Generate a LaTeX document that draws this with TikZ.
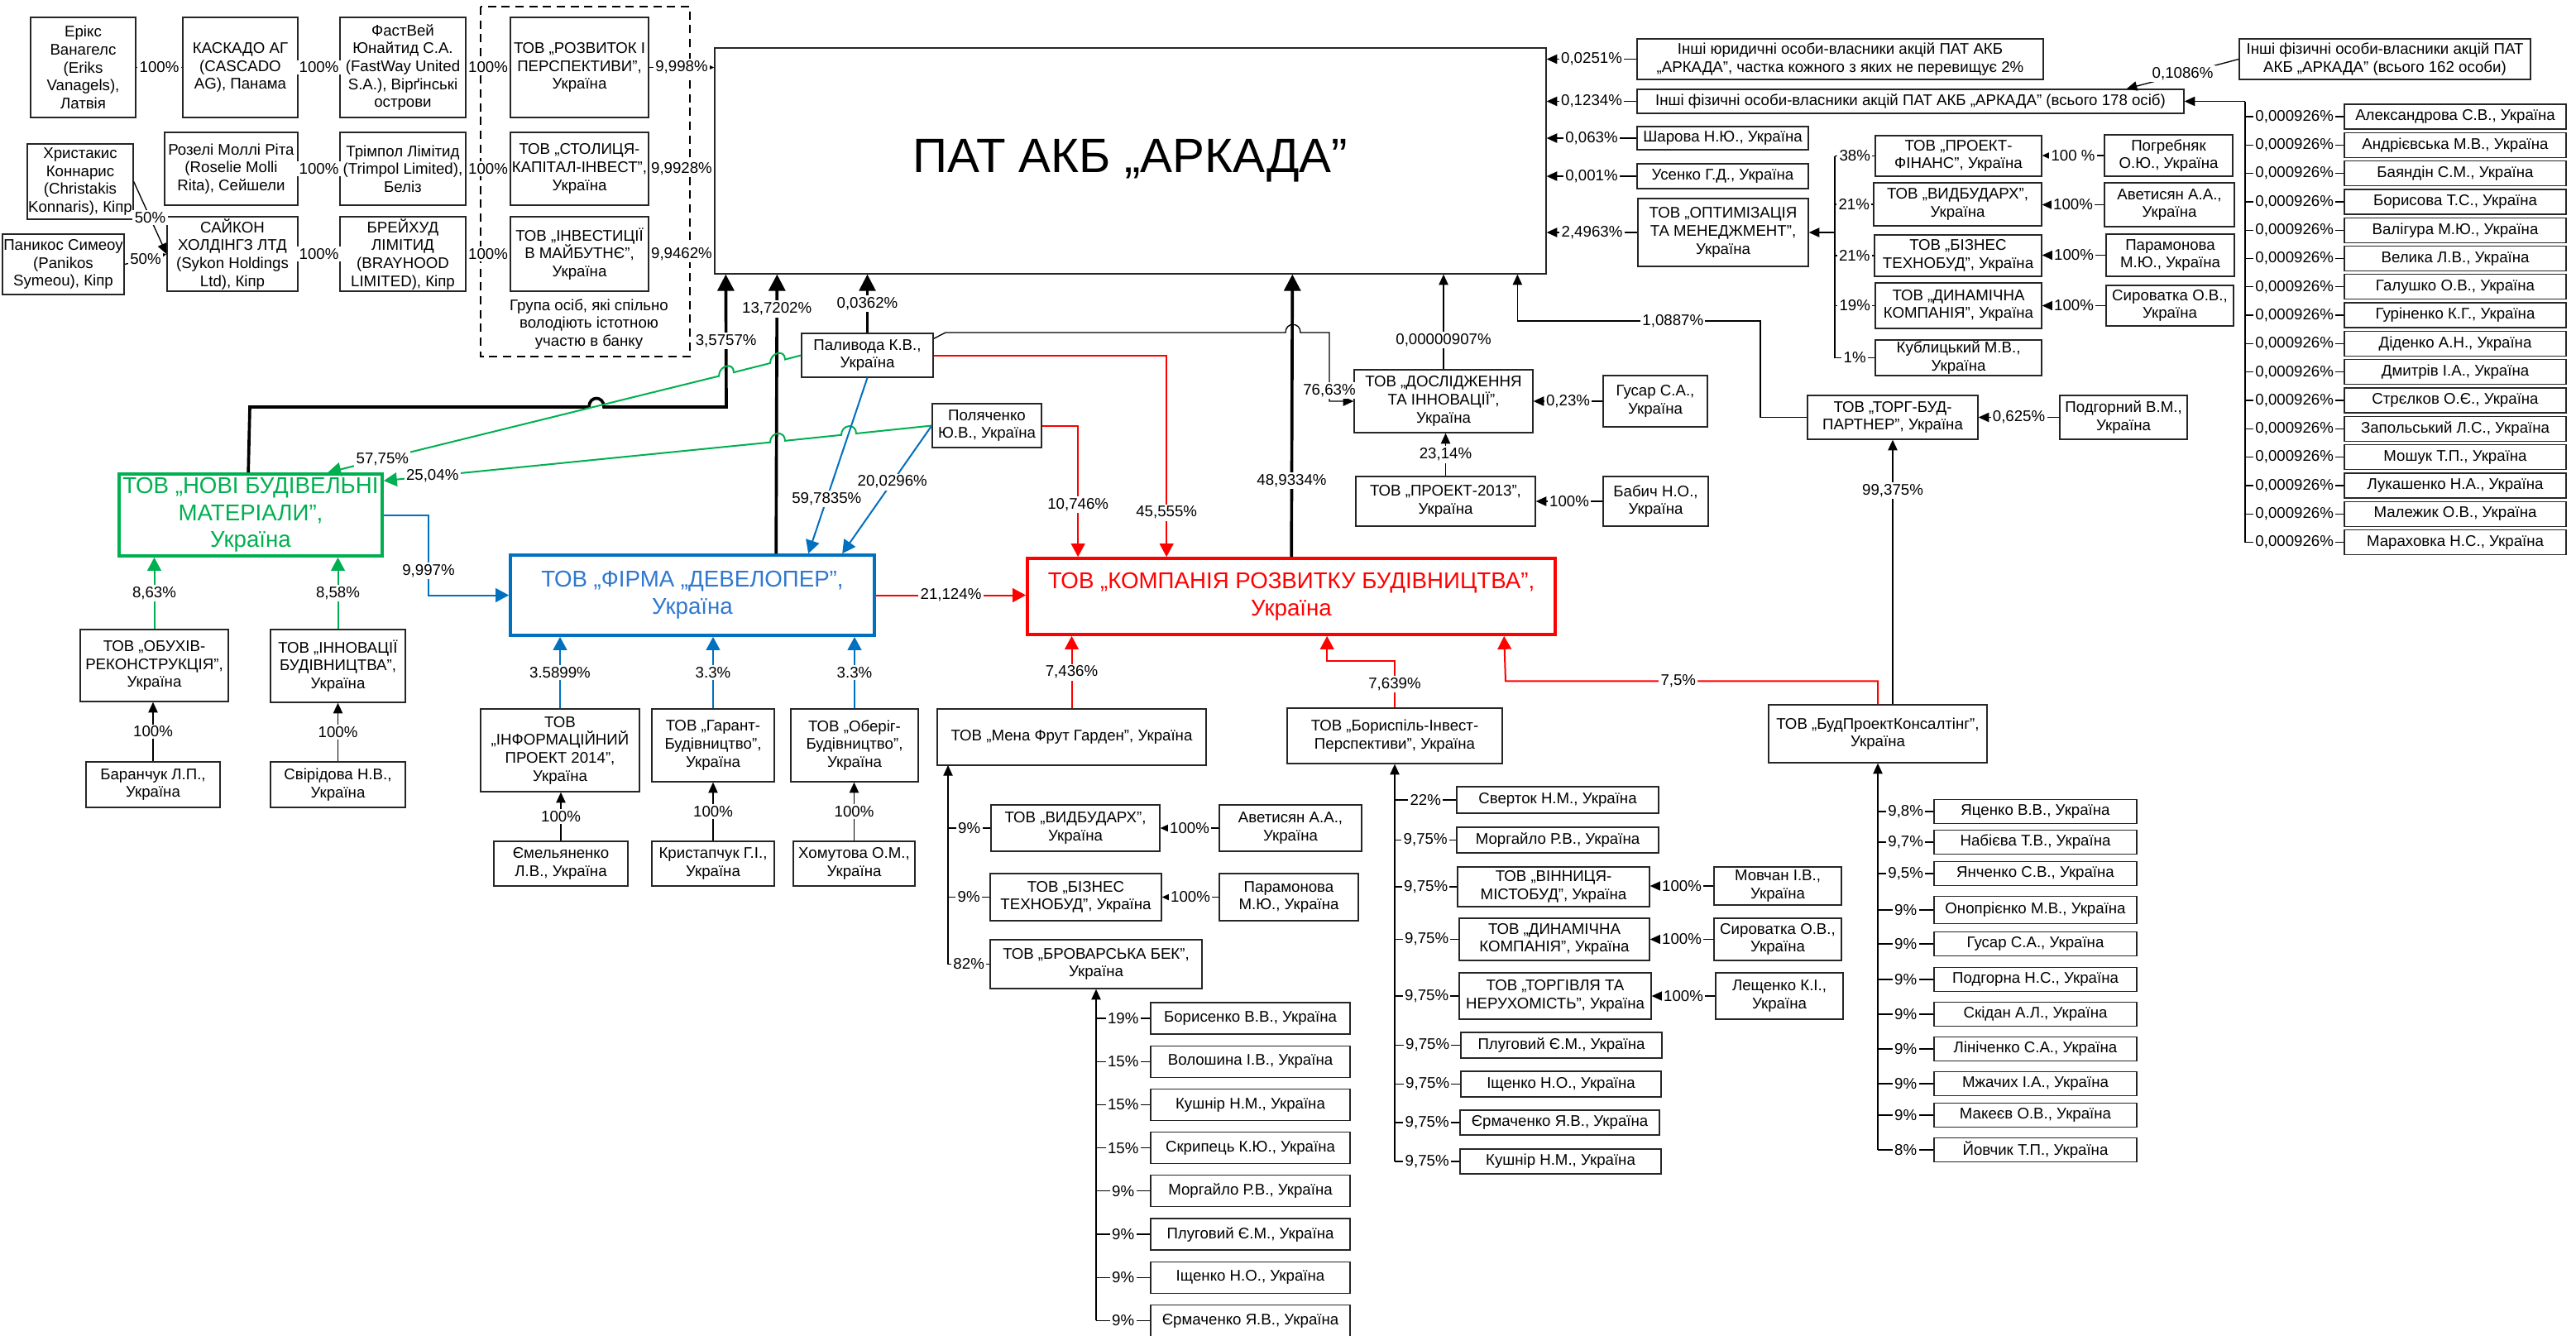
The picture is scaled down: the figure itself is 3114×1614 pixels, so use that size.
\documentclass[tikz,border=0pt]{standalone}
\usepackage{fontspec}
\setmainfont{Liberation Sans}
\usetikzlibrary{arrows.meta,calc}
\definecolor{cg}{HTML}{00B050}
\definecolor{cb}{HTML}{0070C0}
\definecolor{cbt}{HTML}{2F78D0}
\definecolor{cr}{HTML}{FF0000}
\newcommand\fs{\fontsize{5.6pt}{6.5pt}\selectfont}
\newcommand\fb{\fontsize{8.3pt}{9.8pt}\selectfont}
\newcommand\ft{\fontsize{17.5pt}{20pt}\selectfont}
\newcommand\bxx[7][]{\node[box,minimum width={((#5)-(#3))*0.3pt},minimum height={((#6)-(#4))*0.3pt},#1] (#2) at ({((#3)+(#5))/2},{((#4)+(#6))/2}) {#7};}
\newcommand\own[8]{\bxx{#1}{#2}{(#3)-(#5)/2}{#4}{(#3)+(#5)/2}{#6}\draw[ln] (#1.west) -- node[lbl]{#7} (#1.west -| #8);}
\tikzset{
 tS/.tip={Triangle[length=2.2pt,width=2pt]},
 tM/.tip={Triangle[length=3.8pt,width=3.4pt]},
 tL/.tip={Triangle[length=6pt,width=6pt]},
 tG/.tip={Triangle[length=4.8pt,width=5pt]},
}
\begin{document}
\begin{tikzpicture}[x=0.3pt,y=-0.3pt,
 every node/.style={font=\fs},
 box/.style={draw=black!85,line width=0.4pt,fill=white,inner sep=0pt,align=center,font=\fs},
 cbox/.style={draw=#1,line width=1.1pt,font=\fb},
 ln/.style={draw=black,line width=0.4pt},
 thk/.style={draw=black,line width=1.1pt},
 thkm/.style={draw=black,line width=0.8pt},
 gl/.style={draw=cg,line width=0.6pt},
 bl/.style={draw=cb,line width=0.6pt},
 rl/.style={draw=cr,line width=0.6pt},
 lbl/.style={fill=white,inner sep=0.7pt,font=\fs}]
\fill[white] (0,0) rectangle (3114,1614);
\useasboundingbox (0,0) rectangle (3114,1614);
% group frame
\draw[line width=0.4pt,dash pattern=on 3pt off 2pt] (581,8) rectangle (834,431);
\node[align=center,font=\fs] (grp) at (712,392) {Група осіб, які спільно\\володіють істотною\\участю в банку};
% top-left
\bxx{E1}{37}{21}{164}{142}{Ерікс\\Ванагелс\\(Eriks\\Vanagels),\\Латвія}
\bxx{E2}{221}{21}{360}{142}{КАСКАДО АГ\\(CASCADO\\AG), Панама}
\bxx{E3}{411}{21}{563}{142}{ФастВей\\Юнайтид С.А.\\(FastWay United\\S.A.), Вірґінські\\острови}
\bxx{E4}{617}{21}{784}{142}{ТОВ „РОЗВИТОК І\\ПЕРСПЕКТИВИ”,\\Україна}
\bxx{R1}{199}{160}{360}{248}{Розелі Моллі Ріта\\(Roselie Molli\\Rita), Сейшели}
\bxx{R2}{411}{160}{563}{248}{Трімпол Лімітид\\(Trimpol Limited),\\Беліз}
\bxx{R3}{617}{160}{784}{248}{ТОВ „СТОЛИЦЯ-\\КАПІТАЛ-ІНВЕСТ”,\\Україна}
\bxx{H}{33}{174}{161}{265}{Христакис\\Коннарис\\(Christakis\\Konnaris), Кіпр}
\bxx{P}{3}{283}{150}{356}{Паникос Симеоу\\(Panikos\\Symeou), Кіпр}
\bxx{S1}{202}{262}{360}{352}{САЙКОН\\ХОЛДІНГЗ ЛТД\\(Sykon Holdings\\Ltd), Кіпр}
\bxx{S2}{411}{262}{563}{352}{БРЕЙХУД\\ЛІМІТИД\\(BRAYHOOD\\LIMITED), Кіпр}
\bxx{S3}{617}{262}{784}{352}{ТОВ „ІНВЕСТИЦІЇ\\В МАЙБУТНЄ”,\\Україна}
\draw[ln,-{tS}] (E1) -- node[lbl]{100\%} (E2);
\draw[ln,-{tS}] (E2) -- node[lbl]{100\%} (E3);
\draw[ln,-{tS}] (E3) -- node[lbl]{100\%} (E4);
\draw[ln,-{tS}] (R1) -- node[lbl]{100\%} (R2);
\draw[ln,-{tS}] (R2) -- node[lbl]{100\%} (R3);
\draw[ln,-{tS}] (S1) -- node[lbl]{100\%} (S2);
\draw[ln,-{tS}] (S2) -- node[lbl]{100\%} (S3);
\draw[ln,-{tM}] (H.east) -- node[lbl]{50\%} (S1.west);
\draw[ln,-{tM}] (P.east) -- node[lbl]{50\%} (S1.west);
% bank
\bxx[font=\ft]{PAT}{864}{58}{1869}{331}{ПАТ АКБ „АРКАДА”}
\draw[ln,-{tM}] (E4.east) -- node[lbl]{9,998\%} (E4.east -| PAT.west);
\draw[ln,-{tM}] (R3.east) -- node[lbl]{9,9928\%} (R3.east -| PAT.west);
\draw[ln,-{tM}] (S3.east) -- node[lbl]{9,9462\%} (S3.east -| PAT.west);
% right of bank
\bxx{J}{1979}{47}{2470}{96}{Інші юридичні особи-власники акцій ПАТ АКБ\\„АРКАДА”, частка кожного з яких не перевищує 2\%}
\bxx{F178}{1979}{108}{2640}{137}{Інші фізичні особи-власники акцій ПАТ АКБ „АРКАДА” (всього 178 осіб)}
\bxx{SHA}{1979}{153}{2186}{181}{Шарова Н.Ю., Україна}
\bxx{USE}{1979}{198}{2186}{228}{Усенко Г.Д., Україна}
\bxx{OPT}{1980}{240}{2186}{322}{ТОВ „ОПТИМІЗАЦІЯ\\ТА МЕНЕДЖМЕНТ”,\\Україна}
\draw[ln,-{tM}] (J.west) -- node[lbl]{0,0251\%} (J.west -| PAT.east);
\draw[ln,-{tM}] (F178.west) -- node[lbl]{0,1234\%} (F178.west -| PAT.east);
\draw[ln,-{tM}] (SHA.west) -- node[lbl]{0,063\%} (SHA.west -| PAT.east);
\draw[ln,-{tM}] (USE.west) -- node[lbl]{0,001\%} (USE.west -| PAT.east);
\draw[ln,-{tM}] (OPT.west) -- node[lbl]{2,4963\%} (OPT.west -| PAT.east);
\coordinate (ov) at (2218,281);
\bxx{PF}{2267}{164}{2468}{213}{ТОВ „ПРОЕКТ-\\ФІНАНС”, Україна}
\bxx{VD1}{2265}{221}{2468}{273}{ТОВ „ВИДБУДАРХ”,\\Україна}
\bxx{BZ1}{2266}{284}{2468}{334}{ТОВ „БІЗНЕС\\ТЕХНОБУД”, Україна}
\bxx{DN1}{2267}{342}{2468}{397}{ТОВ „ДИНАМІЧНА\\КОМПАНІЯ”, Україна}
\bxx{KUB}{2267}{411}{2468}{454}{Кублицький М.В.,\\Україна}
\draw[ln] (PF.west) -- node[lbl]{38\%} (PF.west -| ov);
\draw[ln] (VD1.west) -- node[lbl]{21\%} (VD1.west -| ov);
\draw[ln] (BZ1.west) -- node[lbl]{21\%} (BZ1.west -| ov);
\draw[ln] (DN1.west) -- node[lbl]{19\%} (DN1.west -| ov);
\draw[ln] (KUB.west) -- node[lbl]{1\%} (KUB.west -| ov);
\draw[ln] (PF.west -| ov) -- (KUB.west -| ov);
\draw[ln,-{tM}] (ov) -- (OPT.east);
\bxx{POG}{2544}{163}{2699}{213}{Погребняк\\О.Ю., Україна}
\bxx{AV1}{2544}{221}{2701}{274}{Аветисян А.А.,\\Україна}
\bxx{PA1}{2546}{283}{2701}{334}{Парамонова\\М.Ю., Україна}
\bxx{SY1}{2546}{345}{2700}{394}{Сироватка О.В.,\\Україна}
\draw[ln,-{tM}] (POG.west) -- node[lbl]{100 \%} (POG.west -| PF.east);
\draw[ln,-{tM}] (AV1.west) -- node[lbl]{100\%} (AV1.west -| VD1.east);
\draw[ln,-{tM}] (PA1.west) -- node[lbl]{100\%} (PA1.west -| BZ1.east);
\draw[ln,-{tM}] (SY1.west) -- node[lbl]{100\%} (SY1.west -| DN1.east);
\bxx{F162}{2707}{47}{3059}{96}{Інші фізичні особи-власники акцій ПАТ\\АКБ „АРКАДА” (всього 162 особи)}
\draw[ln,-{tM}] (F162.west) -- node[lbl]{0,1086\%} ($(F178.north east)+(-70,0)$);
\coordinate (iv) at (2714,122.5);
\foreach \n [count=\i from 0] in {Александрова С.В.,Андрієвська М.В.,Баяндін С.М.,Борисова Т.С.,Валігура М.Ю.,Велика Л.В.,Галушко О.В.,Гуріненко К.Г.,Діденко А.Н.,Дмитрів І.А.,Стрєлков О.Є.,Запольський Л.С.,Мошук Т.П.,Лукашенко Н.А.,Малежик О.В.,Мараховка Н.С.}{
 \own{I\i}{2834}{141+34.3*\i}{3102}{30}{\n, Україна}{0,000926\%}{iv}}
\draw[ln] (iv) -- (iv |- I15.west);
\draw[ln,-{tM}] (iv) -- (F178.east);
% research branch
\bxx{DOS}{1637}{447}{1853}{523}{ТОВ „ДОСЛІДЖЕННЯ\\ТА ІННОВАЦІЇ”,\\Україна}
\bxx{GUS}{1938}{454}{2064}{516}{Гусар С.А.,\\Україна}
\bxx{P13}{1639}{576}{1856}{636}{ТОВ „ПРОЕКТ-2013”,\\Україна}
\bxx{BAB}{1938}{576}{2065}{636}{Бабич Н.О.,\\Україна}
\bxx{TRG}{2185}{478}{2391}{531}{ТОВ „ТОРГ-БУД-\\ПАРТНЕР”, Україна}
\bxx{PDG}{2490}{478}{2644}{531}{Подгорний В.М.,\\Україна}
\draw[ln,-{tM}] (DOS.north) -- node[lbl,pos=.31]{0,00000907\%} (DOS.north |- PAT.south);
\draw[ln,-{tM}] (GUS.west) -- node[lbl]{0,23\%} (GUS.west -| DOS.east);
\draw[ln,-{tM}] (P13.north) -- node[lbl]{23,14\%} (P13.north |- DOS.south);
\draw[ln,-{tM}] (BAB.west) -- node[lbl]{100\%} (BAB.west -| P13.east);
\draw[ln,-{tM}] (PDG.west) -- node[lbl]{0,625\%} (PDG.west -| TRG.east);
\coordinate (t1) at (2128,388);
\coordinate (pb1) at ($(PAT.south west)+(971,0)$);
\draw[ln,-{tM}] (TRG.west) -| (t1) -- node[lbl,pos=.36]{1,0887\%} (t1 -| pb1) -- (pb1);
% persons
\bxx{PAL}{969}{403}{1128}{456}{Паливода К.В.,\\Україна}
\bxx{POL}{1127}{488}{1259}{541}{Поляченко\\Ю.В., Україна}
% coloured companies
\bxx[cbox=cg,text=cg]{NOVI}{144}{573}{462}{672}{ТОВ „НОВІ БУДІВЕЛЬНІ\\МАТЕРІАЛИ”,\\Україна}
\bxx[cbox=cb,text=cbt]{FIR}{617}{671}{1057}{768}{ТОВ „ФІРМА „ДЕВЕЛОПЕР”,\\Україна}
\bxx[cbox=cr,text=cr]{KOM}{1242}{675}{1880}{767}{ТОВ „КОМПАНІЯ РОЗВИТКУ БУДІВНИЦТВА”,\\Україна}
% thick black to bank
\coordinate (nb) at ($(NOVI.north west)+(158,0)$);
\draw[thk,-{tL}] (nb) -- (302,492) -- (712,492) .. controls (712,478) and (730,478) .. (730,492) -- (878,492) -- node[lbl]{3,5757\%} ($(PAT.south west)+(14,0)$);
\draw[thk,-{tL}] ($(FIR.north west)+(323,0)$) -- node[lbl,pos=.876]{13,7202\%} ($(PAT.south west)+(76,0)$);
\draw[thk,-{tL}] ($(KOM.north west)+(321,0)$) -- node[lbl,pos=.27]{48,9334\%} ($(PAT.south west)+(699,0)$);
\draw[thkm,-{tL}] (PAL.north) -- node[lbl]{0,0362\%} (PAL.north |- PAT.south);
\draw[ln,-{tM}] ($(PAL.north east)+(0,7)$) -- (1143,402) -- (1554,402) .. controls (1554,389) and (1572,389) .. (1572,402) -- (1607,402) -- node[lbl,pos=.84]{76,63\%} (1607,485) -- (DOS.west);
% green
\draw[gl,-{tG}] (PAL.west) -- (949,434.5) .. controls (949,421.5) and (931,426) .. (931,439) -- (887,450.1) .. controls (887,437) and (869,441.6) .. (869,454.6) -- node[lbl,pos=.86]{57,75\%} ($(NOVI.north west)+(254,0)$);
\draw[gl,-{tG}] (POL.west) -- (1035,524) .. controls (1035,511) and (1017,512.8) .. (1017,525.8) -- (949,532.8) .. controls (949,519.8) and (931,521.7) .. (931,534.7) -- node[lbl,pos=.874]{25,04\%} ($(NOVI.north east)+(0,10)$);
\bxx{OBU}{97}{761}{276}{848}{ТОВ „ОБУХІВ-\\РЕКОНСТРУКЦІЯ”,\\Україна}
\bxx{INB}{327}{761}{490}{849}{ТОВ „ІННОВАЦІЇ\\БУДІВНИЦТВА”,\\Україна}
\bxx{BAR}{104}{921}{266}{976}{Баранчук Л.П.,\\Україна}
\bxx{SVI}{327}{921}{490}{976}{Свірідова Н.В.,\\Україна}
\draw[gl,-{tG}] (OBU.north) -- node[lbl]{8,63\%} (OBU.north |- NOVI.south);
\draw[gl,-{tG}] (INB.north) -- node[lbl]{8,58\%} (INB.north |- NOVI.south);
\draw[ln,-{tM}] (BAR.north) -- node[lbl]{100\%} (BAR.north |- OBU.south);
\draw[ln,-{tM}] (SVI.north) -- node[lbl]{100\%} (SVI.north |- INB.south);
% blue
\coordinate (b1) at (518,622.5);
\draw[bl,-{tG}] (NOVI.east) -- (b1) -- node[lbl,pos=.7]{9,997\%} (b1 |- FIR.west) -- (FIR.west);
\draw[bl,-{tG}] (PAL.south) -- node[lbl,pos=.69]{59,7835\%} ($(FIR.north west)+(362,0)$);
\draw[bl,-{tG}] (POL.west) -- node[lbl,pos=.44]{20,0296\%} ($(FIR.north west)+(403,0)$);
\bxx{INF}{581}{857}{773}{957}{ТОВ\\„ІНФОРМАЦІЙНИЙ\\ПРОЕКТ 2014”,\\Україна}
\bxx{EME}{597}{1017}{759}{1071}{Ємельяненко\\Л.В., Україна}
\bxx{GAR}{788}{857}{936}{945}{ТОВ „Гарант-\\Будівництво”,\\Україна}
\bxx{KRI}{788}{1017}{936}{1071}{Кристапчук Г.І.,\\Україна}
\bxx{OBE}{956}{857}{1110}{945}{ТОВ „Оберіг-\\Будівництво”,\\Україна}
\bxx{KHO}{959}{1017}{1106}{1071}{Хомутова О.М.,\\Україна}
\draw[bl,-{tG}] (INF.north) -- node[lbl]{3.5899\%} (INF.north |- FIR.south);
\draw[bl,-{tG}] (GAR.north) -- node[lbl]{3.3\%} (GAR.north |- FIR.south);
\draw[bl,-{tG}] (OBE.north) -- node[lbl]{3.3\%} (OBE.north |- FIR.south);
\draw[ln,-{tM}] (EME.north) -- node[lbl]{100\%} (EME.north |- INF.south);
\draw[ln,-{tM}] (KRI.north) -- node[lbl]{100\%} (KRI.north |- GAR.south);
\draw[ln,-{tM}] (KHO.north) -- node[lbl]{100\%} (KHO.north |- OBE.south);
% red
\draw[rl,-{tG}] (FIR.east) -- node[lbl]{21,124\%} (FIR.east -| KOM.west);
\draw[rl,-{tG}] (POL.east) -| node[lbl,pos=.8]{10,746\%} ($(KOM.north west)+(63,0)$);
\draw[rl,-{tG}] (PAL.east) -| node[lbl,pos=.89]{45,555\%} ($(KOM.north west)+(170,0)$);
% Mena
\bxx{MEN}{1133}{857}{1458}{925}{ТОВ „Мена Фрут Гарден”, Україна}
\draw[rl,-{tG}] (MEN.north) -- node[lbl]{7,436\%} (MEN.north |- KOM.south);
\coordinate (mv) at (1146,925);
\own{VD2}{1198}{1001}{1402}{56}{ТОВ „ВИДБУДАРХ”,\\Україна}{9\%}{mv}
\own{BZ2}{1197}{1084.5}{1404}{57}{ТОВ „БІЗНЕС\\ТЕХНОБУД”, Україна}{9\%}{mv}
\own{BRV}{1197}{1165.5}{1453}{59}{ТОВ „БРОВАРСЬКА БЕК”,\\Україна}{82\%}{mv}
\draw[ln,-{tM}] (BRV.west -| mv) -- (mv);
\bxx{AV2}{1474}{973}{1646}{1029}{Аветисян А.А.,\\Україна}
\bxx{PA2}{1474}{1056}{1642}{1113}{Парамонова\\М.Ю., Україна}
\draw[ln,-{tM}] (AV2.west) -- node[lbl]{100\%} (AV2.west -| VD2.east);
\draw[ln,-{tM}] (PA2.west) -- node[lbl]{100\%} (PA2.west -| BZ2.east);
\foreach \n/\p [count=\i from 0] in {Борисенко В.В./19,Волошина І.В./15,Кушнір Н.М./15,Скрипець К.Ю./15,Моргайло Р.В./9,Плуговий Є.М./9,Іщенко Н.О./9,Єрмаченко Я.В./9}{
 \own{BR\i}{1391}{1231+52.2*\i}{1632}{38}{\n, Україна}{\p\%}{BRV.south}}
\draw[ln,-{tM}] (BR7.west -| BRV.south) -- (BRV.south);
% Boryspil
\bxx{BOR}{1556}{856}{1816}{923}{ТОВ „Бориспіль-Інвест-\\Перспективи”, Україна}
\draw[rl,-{tG}] (BOR.north) -- node[lbl]{7,639\%} ++(0,-56) -| ($(KOM.south west)+(364,0)$);
\own{BO1}{1761}{967}{2005}{32}{Сверток Н.М., Україна}{22\%}{BOR.south}
\own{BO2}{1761}{1015.5}{2005}{31}{Моргайло Р.В., Україна}{9,75\%}{BOR.south}
\own{BO3}{1762}{1072}{1994}{48}{ТОВ „ВІННИЦЯ-\\МІСТОБУД”, Україна}{9,75\%}{BOR.south}
\own{BO4}{1764}{1135.5}{1994}{51}{ТОВ „ДИНАМІЧНА\\КОМПАНІЯ”, Україна}{9,75\%}{BOR.south}
\own{BO5}{1764}{1204}{1996}{56}{ТОВ „ТОРГІВЛЯ ТА\\НЕРУХОМІСТЬ”, Україна}{9,75\%}{BOR.south}
\own{BO6}{1766}{1263.5}{2009}{31}{Плуговий Є.М., Україна}{9,75\%}{BOR.south}
\own{BO7}{1766}{1310.5}{2008}{31}{Іщенко Н.О., Україна}{9,75\%}{BOR.south}
\own{BO8}{1765}{1357}{2006}{30}{Єрмаченко Я.В., Україна}{9,75\%}{BOR.south}
\own{BO9}{1765}{1404}{2008}{30}{Кушнір Н.М., Україна}{9,75\%}{BOR.south}
\draw[ln,-{tM}] (BO9.west -| BOR.south) -- (BOR.south);
\bxx{MOV}{2072}{1048}{2226}{1094}{Мовчан І.В.,\\Україна}
\bxx{SY2}{2072}{1110}{2226}{1161}{Сироватка О.В.,\\Україна}
\bxx{LES}{2074}{1176}{2228}{1232}{Лещенко К.І.,\\Україна}
\draw[ln,-{tM}] (MOV.west) -- node[lbl]{100\%} (MOV.west -| BO3.east);
\draw[ln,-{tM}] (SY2.west) -- node[lbl]{100\%} (SY2.west -| BO4.east);
\draw[ln,-{tM}] (LES.west) -- node[lbl]{100\%} (LES.west -| BO5.east);
% BudProekt
\bxx{BUD}{2138}{852}{2402}{922}{ТОВ „БудПроектКонсалтінг”,\\Україна}
\draw[rl,-{tG}] (BUD.north) -- ++(0,-28) -- node[lbl,pos=.536]{7,5\%} ++(-450,0) -- ($(KOM.south west)+(578,0)$);
\draw[ln,-{tM}] (TRG.south |- BUD.north) -- node[lbl,pos=.807]{99,375\%} (TRG.south);
\own{BP1}{2338}{981}{2583}{29}{Яценко В.В., Україна}{9,8\%}{BUD.south}
\own{BP2}{2338}{1018}{2583}{29}{Набієва Т.В., Україна}{9,7\%}{BUD.south}
\own{BP3}{2338}{1056}{2583}{29}{Янченко С.В., Україна}{9,5\%}{BUD.south}
\own{BP4}{2338}{1100}{2583}{33}{Онопрієнко М.В., Україна}{9\%}{BUD.south}
\own{BP5}{2338}{1141}{2583}{29}{Гусар С.А., Україна}{9\%}{BUD.south}
\own{BP6}{2338}{1184}{2583}{29}{Подгорна Н.С., Україна}{9\%}{BUD.south}
\own{BP7}{2338}{1226}{2583}{29}{Скідан А.Л., Україна}{9\%}{BUD.south}
\own{BP8}{2338}{1268}{2583}{29}{Лініченко С.А., Україна}{9\%}{BUD.south}
\own{BP9}{2338}{1310}{2583}{29}{Мжачих І.А., Україна}{9\%}{BUD.south}
\own{BP10}{2338}{1348}{2583}{29}{Макеєв О.В., Україна}{9\%}{BUD.south}
\own{BP11}{2338}{1390}{2583}{29}{Йовчик Т.П., Україна}{8\%}{BUD.south}
\draw[ln,-{tM}] (BP11.west -| BUD.south) -- (BUD.south);
\end{tikzpicture}
\end{document}
